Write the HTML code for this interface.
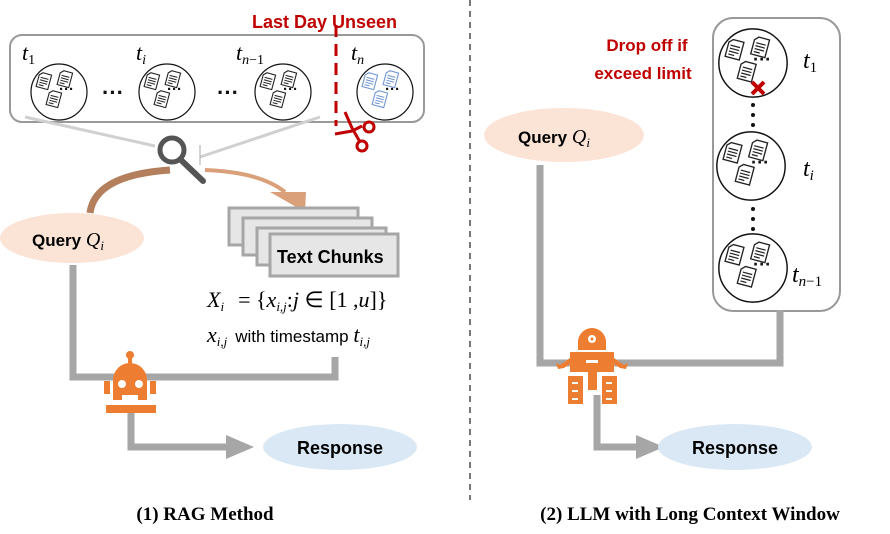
<!DOCTYPE html>
<html><head><meta charset="utf-8"><style>
html,body{margin:0;padding:0;background:#fff;}
svg{display:block;}
text{font-family:"Liberation Sans",sans-serif;}
.m{font-family:"Liberation Serif",serif;font-style:italic;}
</style></head><body>
<svg width="890" height="534" viewBox="0 0 890 534" xmlns="http://www.w3.org/2000/svg">
<defs>
<g id="doc"><path d="M0,3 L3,0 L12,0 L12,15 L0,15 Z" fill="#fff" stroke="#222" stroke-width="1.1"/><path d="M2,5h8M2,7.5h8M2,10h8M2,12.5h5" stroke="#222" stroke-width="1"/></g>
<g id="docb"><path d="M0,3 L3,0 L12,0 L12,15 L0,15 Z" fill="#fff" stroke="#6f95d3" stroke-width="1.1"/><path d="M2,5h8M2,7.5h8M2,10h8M2,12.5h5" stroke="#6f95d3" stroke-width="1"/></g>
<g id="cir"><circle r="28" fill="#fff" stroke="#111" stroke-width="1.2"/>
<use href="#doc" transform="translate(-19,-20) rotate(15)"/><use href="#doc" transform="translate(2,-22) rotate(15)"/><use href="#doc" transform="translate(-9,-2) rotate(15)"/>
<text x="0" y="2" font-size="15" font-weight="bold" fill="#111">···</text></g>
<g id="cirb"><circle r="28" fill="#fff" stroke="#111" stroke-width="1.2"/>
<use href="#docb" transform="translate(-19,-20) rotate(15)"/><use href="#docb" transform="translate(2,-22) rotate(15)"/><use href="#docb" transform="translate(-9,-2) rotate(15)"/>
<text x="0" y="2" font-size="15" font-weight="bold" fill="#111">···</text></g>
</defs>

<line x1="470" y1="0" x2="470" y2="500" stroke="#777" stroke-width="2" stroke-dasharray="6,5"/>

<!-- LEFT -->
<rect x="10" y="35" width="414" height="87" rx="12" fill="#fff" stroke="#999" stroke-width="2"/>
<use href="#cir" transform="translate(59,92)"/>
<use href="#cir" transform="translate(167,92)"/>
<use href="#cir" transform="translate(283,92)"/>
<use href="#cirb" transform="translate(385,92)"/>
<text x="22" y="60" class="m" font-size="22">t<tspan font-size="14" font-style="normal" dy="4">1</tspan></text>
<text x="136" y="60" class="m" font-size="22">t<tspan font-size="14" dy="4">i</tspan></text>
<text x="236" y="60" class="m" font-size="22">t<tspan font-size="14" dy="4">n</tspan><tspan font-size="14" font-style="normal">−1</tspan></text>
<text x="351" y="60" class="m" font-size="22">t<tspan font-size="14" dy="4">n</tspan></text>
<text x="102" y="100" font-size="22" font-weight="bold" fill="#111">···</text>
<text x="217" y="100" font-size="22" font-weight="bold" fill="#111">···</text>
<line x1="336" y1="25" x2="336" y2="126" stroke="#c00000" stroke-width="3" stroke-dasharray="12,7"/>
<text x="252" y="28" font-size="18" font-weight="bold" fill="#c00000">Last Day Unseen</text>
<g stroke="#c00000" stroke-width="3" fill="none">
<path d="M335,134 L352,131 L362,126"/><path d="M345,112 L352,128 L360,142"/>
<circle cx="369" cy="127" r="5"/><circle cx="362" cy="146" r="5"/>
</g>
<line x1="25" y1="117" x2="155" y2="146" stroke="#d0d0d0" stroke-width="3"/>
<line x1="320" y1="117" x2="200" y2="157" stroke="#d0d0d0" stroke-width="3"/>
<line x1="200" y1="145" x2="200" y2="165" stroke="#aaa" stroke-width="1"/>
<circle cx="172" cy="150" r="12" fill="#fff" stroke="#555" stroke-width="5"/>
<line x1="181" y1="160" x2="203" y2="181" stroke="#555" stroke-width="6" stroke-linecap="round"/>
<path d="M90,213 Q95,175 170,170" stroke="#b47f5c" stroke-width="7" fill="none"/>
<path d="M205,170 Q260,172 285,192" stroke="#d9a07a" stroke-width="4" fill="none"/>
<polygon points="270,192 306,192 305,212" fill="#d9a07a"/>
<ellipse cx="72" cy="238" rx="72" ry="25" fill="#fbe3d6"/>
<text x="32" y="246" font-size="17" font-weight="bold">Query <tspan class="m" font-weight="normal" font-size="20">Q</tspan><tspan class="m" font-weight="normal" font-size="13" dy="4">i</tspan></text>
<rect x="229" y="208" width="129" height="37" fill="#e6e6e6" stroke="#a6a6a6" stroke-width="3"/>
<rect x="243" y="218" width="129" height="37" fill="#e6e6e6" stroke="#a6a6a6" stroke-width="3"/>
<rect x="257" y="228" width="129" height="37" fill="#e6e6e6" stroke="#a6a6a6" stroke-width="3"/>
<rect x="270" y="234" width="128" height="42" fill="#e6e6e6" stroke="#a6a6a6" stroke-width="3"/>
<text x="277" y="263" font-size="18" font-weight="bold">Text Chunks</text>
<text x="207" y="307" class="m" font-size="22">X<tspan font-size="13" dy="4">i</tspan><tspan dy="-4" font-style="normal" dx="14">=  {</tspan>x<tspan font-size="13" dy="4">i,j</tspan><tspan dy="-4" font-style="normal">:</tspan>j<tspan font-style="normal"> ∈ [1 ,</tspan>u<tspan font-style="normal">]}</tspan></text>
<text x="207" y="342" class="m" font-size="22">x<tspan font-size="13" dy="4">i,j</tspan><tspan dy="-4" font-style="normal" font-family="Liberation Sans" font-size="17" dx="8">with timestamp </tspan>t<tspan font-size="13" dy="4">i,j</tspan></text>
<polyline points="73,265 73,377 335,377 335,357" stroke="#a6a6a6" stroke-width="7" fill="none"/>
<polyline points="131,410 131,447 230,447" stroke="#a6a6a6" stroke-width="7" fill="none"/>
<polygon points="226,435 254,447 226,459" fill="#a6a6a6"/>
<g fill="#ed7d31">
<circle cx="130" cy="355" r="4"/><rect x="128" y="355" width="4" height="9"/>
<path d="M113,400 L113,380 A17,17 0 0 1 147,380 L147,400 Z"/>
<rect x="104" y="381" width="6" height="13"/><rect x="150" y="381" width="6" height="13"/>
<rect x="106" y="405" width="50" height="8"/>
</g>
<circle cx="122" cy="384" r="4" fill="#fff"/><circle cx="139" cy="384" r="4" fill="#fff"/>
<rect x="122" y="395" width="16" height="5" fill="#fff"/>
<ellipse cx="340" cy="447" rx="77" ry="23" fill="#dae8f5"/>
<text x="340" y="454" font-size="18" font-weight="bold" text-anchor="middle">Response</text>
<text x="205" y="520" font-size="19" font-weight="bold" text-anchor="middle" style="font-family:'Liberation Serif',serif">(1) RAG Method</text>

<!-- RIGHT -->
<rect x="713" y="18" width="127" height="293" rx="20" fill="#fff" stroke="#999" stroke-width="2"/>
<use href="#cir" transform="translate(753,63) scale(1.22)"/>
<use href="#cir" transform="translate(751,166) scale(1.22)"/>
<use href="#cir" transform="translate(753,268) scale(1.22)"/>
<text x="803" y="68" class="m" font-size="24">t<tspan font-size="15" font-style="normal" dy="4">1</tspan></text>
<text x="803" y="176" class="m" font-size="24">t<tspan font-size="15" dy="4">i</tspan></text>
<text x="792" y="282" class="m" font-size="24">t<tspan font-size="15" dy="4">n</tspan><tspan font-size="15" font-style="normal">−1</tspan></text>
<g fill="#111"><circle cx="753" cy="105" r="2"/><circle cx="753" cy="115" r="2"/><circle cx="753" cy="125" r="2"/>
<circle cx="753" cy="209" r="2"/><circle cx="753" cy="219" r="2"/><circle cx="753" cy="229" r="2"/></g>
<path d="M752,82 L764,94 M764,82 L752,94" stroke="#c00000" stroke-width="4"/>
<text x="647" y="51" font-size="17" font-weight="bold" fill="#c00000" text-anchor="middle">Drop off if</text>
<text x="643" y="79" font-size="17" font-weight="bold" fill="#c00000" text-anchor="middle">exceed limit</text>
<ellipse cx="564" cy="135" rx="80" ry="27" fill="#fbe3d6"/>
<text x="518" y="143" font-size="17" font-weight="bold">Query <tspan class="m" font-weight="normal" font-size="20">Q</tspan><tspan class="m" font-weight="normal" font-size="13" dy="4">i</tspan></text>
<polyline points="540,165 540,363 780,363 780,310" stroke="#a6a6a6" stroke-width="7" fill="none"/>
<polyline points="597,395 597,447 640,447" stroke="#a6a6a6" stroke-width="7" fill="none"/>
<polygon points="636,435 664,447 636,459" fill="#a6a6a6"/>
<g fill="#ed7d31">
<path d="M578,350 L578,342 A14,14 0 0 1 606,342 L606,350 Z"/>
<rect x="570" y="352" width="44" height="20"/>
<rect x="588" y="370" width="9" height="20"/>
<path d="M570,358 L560,365 L556,363 L558,369 L564,368 L570,364Z"/>
<path d="M614,358 L624,365 L628,363 L626,369 L620,368 L614,364Z"/>
<rect x="568" y="376" width="15" height="28"/><rect x="602" y="376" width="15" height="28"/>
</g>
<circle cx="592" cy="339" r="4" fill="#fff"/><circle cx="592" cy="339" r="1.5" fill="#ed7d31"/>
<rect x="586" y="360" width="12" height="3" fill="#fff"/>
<g fill="#fff"><rect x="572" y="382" width="6" height="2"/><rect x="572" y="390" width="6" height="2"/><rect x="572" y="398" width="6" height="2"/>
<rect x="606" y="382" width="6" height="2"/><rect x="606" y="390" width="6" height="2"/><rect x="606" y="398" width="6" height="2"/></g>
<ellipse cx="735" cy="447" rx="77" ry="23" fill="#dae8f5"/>
<text x="735" y="454" font-size="18" font-weight="bold" text-anchor="middle">Response</text>
<text x="690" y="520" font-size="19" font-weight="bold" text-anchor="middle" style="font-family:'Liberation Serif',serif">(2) LLM with Long Context Window</text>
</svg>
</body></html>
